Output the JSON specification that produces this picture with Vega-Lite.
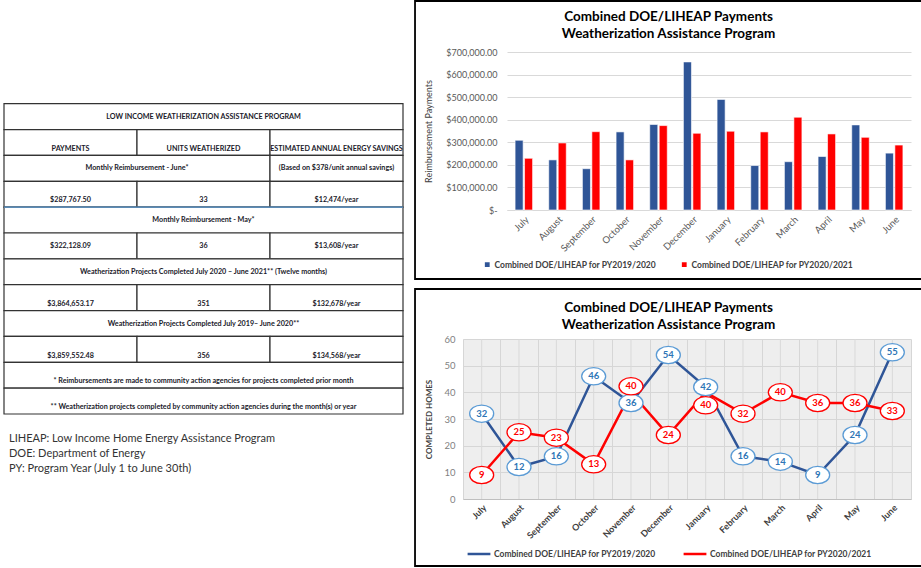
{
  "$schema": "https://vega.github.io/schema/vega-lite/v6.json",
  "padding": {"left": 3, "top": 0, "right": 0, "bottom": 0},
  "background": "white",
  "config": {
    "font": "Lato",
    "view": {"stroke": null},
    "axis": {"labelFont": "Lato", "titleFont": "Lato"},
    "legend": {"labelFont": "Lato"},
    "title": {"font": "Lato"}
  },
  "resolve": {"scale": {"color": "independent"}, "legend": {"color": "independent"}},
  "datasets": {
    "table": [
      {"row": 1, "c0": 0, "c1": 3, "cx": 1.5, "kind": "mid", "text": "LOW INCOME WEATHERIZATION ASSISTANCE PROGRAM"},
      {"row": 2, "c0": 0, "c1": 1, "cx": 0.5, "kind": "low", "text": "PAYMENTS"},
      {"row": 2, "c0": 1, "c1": 2, "cx": 1.5, "kind": "low", "text": "UNITS WEATHERIZED"},
      {"row": 2, "c0": 2, "c1": 3, "cx": 2.5, "kind": "low", "text": "ESTIMATED ANNUAL ENERGY SAVINGS"},
      {"row": 3, "c0": 0, "c1": 2, "cx": 1, "kind": "mid", "text": "Monthly Reimbursement - June*"},
      {"row": 3, "c0": 2, "c1": 3, "cx": 2.5, "kind": "mid", "text": "(Based on $378/unit  annual savings)"},
      {"row": 4, "c0": 0, "c1": 1, "cx": 0.5, "kind": "low", "text": "$287,767.50"},
      {"row": 4, "c0": 1, "c1": 2, "cx": 1.5, "kind": "low", "text": "33"},
      {"row": 4, "c0": 2, "c1": 3, "cx": 2.5, "kind": "low", "text": "$12,474/year"},
      {"row": 5, "c0": 0, "c1": 3, "cx": 1.5, "kind": "mid", "text": "Monthly Reimbursement - May*"},
      {"row": 6, "c0": 0, "c1": 1, "cx": 0.5, "kind": "mid", "text": "$322,128.09"},
      {"row": 6, "c0": 1, "c1": 2, "cx": 1.5, "kind": "mid", "text": "36"},
      {"row": 6, "c0": 2, "c1": 3, "cx": 2.5, "kind": "mid", "text": "$13,608/year"},
      {"row": 7, "c0": 0, "c1": 3, "cx": 1.5, "kind": "mid", "text": "Weatherization Projects Completed July 2020 – June 2021** (Twelve months)"},
      {"row": 8, "c0": 0, "c1": 1, "cx": 0.5, "kind": "low", "text": "$3,864,653.17"},
      {"row": 8, "c0": 1, "c1": 2, "cx": 1.5, "kind": "low", "text": "351"},
      {"row": 8, "c0": 2, "c1": 3, "cx": 2.5, "kind": "low", "text": "$132,678/year"},
      {"row": 9, "c0": 0, "c1": 3, "cx": 1.5, "kind": "mid", "text": "Weatherization Projects Completed July 2019– June 2020**"},
      {"row": 10, "c0": 0, "c1": 1, "cx": 0.5, "kind": "low", "text": "$3,859,552.48"},
      {"row": 10, "c0": 1, "c1": 2, "cx": 1.5, "kind": "low", "text": "356"},
      {"row": 10, "c0": 2, "c1": 3, "cx": 2.5, "kind": "low", "text": "$134,568/year"},
      {"row": 11, "c0": 0, "c1": 3, "cx": 1.5, "kind": "low", "text": "* Reimbursements are made to community action agencies for projects completed prior month"},
      {"row": 12, "c0": 0, "c1": 3, "cx": 1.5, "kind": "low", "text": "** Weatherization projects completed by community action agencies during the month(s) or year"}
    ],
    "notes": [
      {"line": 1, "text": "LIHEAP: Low Income Home Energy Assistance Program"},
      {"line": 2, "text": "DOE: Department of Energy"},
      {"line": 3, "text": "PY: Program Year (July 1 to June 30th)"}
    ],
    "payments": [
      {"month": "July", "series": "Combined DOE/LIHEAP for PY2019/2020", "value": 309000},
      {"month": "August", "series": "Combined DOE/LIHEAP for PY2019/2020", "value": 222000},
      {"month": "September", "series": "Combined DOE/LIHEAP for PY2019/2020", "value": 183000},
      {"month": "October", "series": "Combined DOE/LIHEAP for PY2019/2020", "value": 346000},
      {"month": "November", "series": "Combined DOE/LIHEAP for PY2019/2020", "value": 379000},
      {"month": "December", "series": "Combined DOE/LIHEAP for PY2019/2020", "value": 656000},
      {"month": "January", "series": "Combined DOE/LIHEAP for PY2019/2020", "value": 490000},
      {"month": "February", "series": "Combined DOE/LIHEAP for PY2019/2020", "value": 197000},
      {"month": "March", "series": "Combined DOE/LIHEAP for PY2019/2020", "value": 214000},
      {"month": "April", "series": "Combined DOE/LIHEAP for PY2019/2020", "value": 237000},
      {"month": "May", "series": "Combined DOE/LIHEAP for PY2019/2020", "value": 377000},
      {"month": "June", "series": "Combined DOE/LIHEAP for PY2019/2020", "value": 252000},
      {"month": "July", "series": "Combined DOE/LIHEAP for PY2020/2021", "value": 229000},
      {"month": "August", "series": "Combined DOE/LIHEAP for PY2020/2021", "value": 297000},
      {"month": "September", "series": "Combined DOE/LIHEAP for PY2020/2021", "value": 347000},
      {"month": "October", "series": "Combined DOE/LIHEAP for PY2020/2021", "value": 222000},
      {"month": "November", "series": "Combined DOE/LIHEAP for PY2020/2021", "value": 374000},
      {"month": "December", "series": "Combined DOE/LIHEAP for PY2020/2021", "value": 340000},
      {"month": "January", "series": "Combined DOE/LIHEAP for PY2020/2021", "value": 349000},
      {"month": "February", "series": "Combined DOE/LIHEAP for PY2020/2021", "value": 346000},
      {"month": "March", "series": "Combined DOE/LIHEAP for PY2020/2021", "value": 411000},
      {"month": "April", "series": "Combined DOE/LIHEAP for PY2020/2021", "value": 337000},
      {"month": "May", "series": "Combined DOE/LIHEAP for PY2020/2021", "value": 322128.09},
      {"month": "June", "series": "Combined DOE/LIHEAP for PY2020/2021", "value": 287767.5}
    ],
    "homes": [
      {"month": "July", "series": "Combined DOE/LIHEAP for PY2019/2020", "value": 32},
      {"month": "August", "series": "Combined DOE/LIHEAP for PY2019/2020", "value": 12},
      {"month": "September", "series": "Combined DOE/LIHEAP for PY2019/2020", "value": 16},
      {"month": "October", "series": "Combined DOE/LIHEAP for PY2019/2020", "value": 46},
      {"month": "November", "series": "Combined DOE/LIHEAP for PY2019/2020", "value": 36},
      {"month": "December", "series": "Combined DOE/LIHEAP for PY2019/2020", "value": 54},
      {"month": "January", "series": "Combined DOE/LIHEAP for PY2019/2020", "value": 42},
      {"month": "February", "series": "Combined DOE/LIHEAP for PY2019/2020", "value": 16},
      {"month": "March", "series": "Combined DOE/LIHEAP for PY2019/2020", "value": 14},
      {"month": "April", "series": "Combined DOE/LIHEAP for PY2019/2020", "value": 9},
      {"month": "May", "series": "Combined DOE/LIHEAP for PY2019/2020", "value": 24},
      {"month": "June", "series": "Combined DOE/LIHEAP for PY2019/2020", "value": 55},
      {"month": "July", "series": "Combined DOE/LIHEAP for PY2020/2021", "value": 9},
      {"month": "August", "series": "Combined DOE/LIHEAP for PY2020/2021", "value": 25},
      {"month": "September", "series": "Combined DOE/LIHEAP for PY2020/2021", "value": 23},
      {"month": "October", "series": "Combined DOE/LIHEAP for PY2020/2021", "value": 13},
      {"month": "November", "series": "Combined DOE/LIHEAP for PY2020/2021", "value": 40},
      {"month": "December", "series": "Combined DOE/LIHEAP for PY2020/2021", "value": 24},
      {"month": "January", "series": "Combined DOE/LIHEAP for PY2020/2021", "value": 40},
      {"month": "February", "series": "Combined DOE/LIHEAP for PY2020/2021", "value": 32},
      {"month": "March", "series": "Combined DOE/LIHEAP for PY2020/2021", "value": 40},
      {"month": "April", "series": "Combined DOE/LIHEAP for PY2020/2021", "value": 36},
      {"month": "May", "series": "Combined DOE/LIHEAP for PY2020/2021", "value": 36},
      {"month": "June", "series": "Combined DOE/LIHEAP for PY2020/2021", "value": 33}
    ]
  },
  "spacing": 10,
  "hconcat": [
    {
      "spacing": 17,
      "vconcat": [
        {
          "width": 399,
          "height": 362,
          "data": {"name": "table"},
          "encoding": {
            "y": {"field": "row", "type": "ordinal", "axis": null, "scale": {"paddingInner": 0, "paddingOuter": 1, "align": 1}}
          },
          "layer": [
            {
              "mark": {"type": "rect", "fill": "white", "stroke": "#333333", "strokeWidth": 1.2},
              "encoding": {
                "x": {"field": "c0", "type": "quantitative", "axis": null, "scale": {"domain": [0, 3], "nice": false}},
                "x2": {"field": "c1"}
              }
            },
            {
              "data": {"values": [{"row": 5}]},
              "mark": {"type": "rule", "stroke": "#5B9BD5", "strokeWidth": 1.2},
              "encoding": {
                "y": {"field": "row", "type": "ordinal", "bandPosition": 0},
                "x": {"datum": 0},
                "x2": {"datum": 3}
              }
            },
            {
              "transform": [{"filter": "datum.kind == 'mid'"}],
              "mark": {"type": "text", "fontSize": 7.2, "fontWeight": "bold", "color": "#1a1a2a"},
              "encoding": {
                "x": {"field": "cx", "type": "quantitative"},
                "text": {"field": "text"}
              }
            },
            {
              "transform": [{"filter": "datum.kind == 'low'"}],
              "mark": {"type": "text", "fontSize": 7.2, "fontWeight": "bold", "color": "#1a1a2a"},
              "encoding": {
                "x": {"field": "cx", "type": "quantitative"},
                "y": {"field": "row", "type": "ordinal", "bandPosition": 0.74},
                "text": {"field": "text"}
              }
            }
          ]
        },
        {
          "width": 399,
          "height": 44,
          "data": {"name": "notes"},
          "mark": {"type": "text", "align": "left", "fontSize": 11, "color": "#333333", "dx": 5},
          "encoding": {
            "y": {"field": "line", "type": "ordinal", "axis": null, "scale": {"paddingInner": 0, "paddingOuter": 0}},
            "x": {"datum": 0, "type": "quantitative", "scale": {"domain": [0, 1]}, "axis": null},
            "text": {"field": "text"}
          }
        }
      ]
    },
    {
      "spacing": 8,
      "resolve": {"scale": {"color": "independent"}, "legend": {"color": "independent"}},
      "vconcat": [
        {
          "width": 448,
          "height": 158,
          "title": {"text": ["Combined DOE/LIHEAP Payments", "Weatherization Assistance Program"], "fontSize": 13.5, "fontWeight": "bold", "color": "#000000", "anchor": "middle", "frame": "bounds", "lineHeight": 16.5, "offset": -40},
          "data": {"name": "payments"},
          "resolve": {"scale": {"x": "independent", "y": "independent"}},
          "layer": [
            {
              "mark": {"type": "bar", "stroke": "white", "strokeWidth": 0.6},
              "encoding": {
                "x": {
                  "field": "month", "type": "nominal",
                  "sort": ["July", "August", "September", "October", "November", "December", "January", "February", "March", "April", "May", "June"],
                  "scale": {"range": [44, 448], "paddingInner": 0.48, "paddingOuter": 0.24},
                  "axis": {"title": null, "labelAngle": -45, "labelColor": "#595959", "labelFontSize": 9.5, "ticks": false, "domainColor": "#d9d9d9", "labelPadding": 4}
                },
                "xOffset": {"field": "series", "scale": {"paddingInner": 0.15}},
                "y": {
                  "field": "value", "type": "quantitative",
                  "scale": {"domain": [0, 700000], "nice": false},
                  "axis": {"offset": -44, "title": "Reimbursement Payments", "titleFontSize": 9, "titleFontWeight": "normal", "titleColor": "#404040", "titlePadding": 12, "labelColor": "#595959", "labelFontSize": 9, "labelPadding": 10, "values": [0, 100000, 200000, 300000, 400000, 500000, 600000, 700000], "labelExpr": "datum.value == 0 ? '$-' : '$' + format(datum.value, ',.2f')", "domain": false, "ticks": false, "gridColor": "#d9d9d9"}
                },
                "color": {
                  "field": "series", "type": "nominal",
                  "scale": {"range": ["#2F5597", "#FF0000"]},
                  "legend": {"orient": "none", "legendX": 20, "legendY": 208, "direction": "horizontal", "title": null, "symbolType": "square", "symbolSize": 40, "labelFontSize": 8.5, "labelFontWeight": "bold", "labelColor": "#404040", "columnPadding": 21, "labelOffset": 3, "labelLimit": 300}
                }
              }
            },
            {
              "data": {"values": [{"panel": "payments"}]},
              "mark": {"type": "rect", "fill": "transparent", "stroke": "#000000", "strokeWidth": 1.8},
              "encoding": {
                "x": {"datum": -0.1071, "type": "quantitative", "scale": {"domain": [0, 1], "nice": false}, "axis": null},
                "x2": {"datum": 1.0246},
                "y": {"datum": 1.3228, "type": "quantitative", "scale": {"domain": [0, 1], "nice": false}, "axis": null},
                "y2": {"datum": -0.4367}
              }
            }
          ]
        },
        {
          "width": 448,
          "height": 160,
          "view": {"fill": "#eeeeee", "stroke": null},
          "title": {"text": ["Combined DOE/LIHEAP Payments", "Weatherization Assistance Program"], "fontSize": 13.5, "fontWeight": "bold", "color": "#000000", "anchor": "middle", "frame": "bounds", "lineHeight": 16.5, "offset": -43},
          "data": {"name": "homes"},
          "resolve": {"scale": {"x": "independent", "y": "independent"}},
          "layer": [
            {
              "encoding": {
                "x": {
                  "field": "month", "type": "nominal",
                  "sort": ["July", "August", "September", "October", "November", "December", "January", "February", "March", "April", "May", "June"],
                  "axis": {"title": null, "labelAngle": -45, "labelColor": "#404040", "labelFontWeight": "bold", "labelFontSize": 9, "ticks": false, "tickBand": "extent", "grid": true, "gridColor": "#d6d6d6", "domainColor": "#bfbfbf", "labelPadding": 4}
                },
                "y": {
                  "field": "value", "type": "quantitative",
                  "scale": {"domain": [0, 60], "nice": false},
                  "axis": {"title": "COMPLETED HOMES", "titleFontSize": 8, "titleFontWeight": "bold", "titleColor": "#404040", "titlePadding": 10, "labelColor": "#7f7f7f", "labelFontSize": 9.5, "labelPadding": 8, "values": [0, 10, 20, 30, 40, 50, 60], "domain": false, "ticks": false, "gridColor": "#d6d6d6"}
                }
              },
              "layer": [
                {
                  "transform": [{"filter": "datum.series == 'Combined DOE/LIHEAP for PY2019/2020'"}],
                  "mark": {"type": "rule", "color": "#d9d9d9", "strokeWidth": 1},
                  "encoding": {"y": null}
                },
                {
                  "mark": {"type": "line", "strokeWidth": 2.5},
                  "encoding": {
                    "color": {
                      "field": "series", "type": "nominal",
                      "scale": {"range": ["#2F5597", "#FF0000"]},
                      "legend": {"orient": "none", "legendX": 3, "legendY": 202, "direction": "horizontal", "title": null, "symbolType": "stroke", "symbolStrokeWidth": 2.5, "symbolSize": 520, "labelFontSize": 8.5, "labelFontWeight": "bold", "labelColor": "#404040", "columnPadding": 22, "labelOffset": 2, "labelLimit": 300}
                    }
                  }
                },
                {
                  "mark": {"type": "point", "shape": "M -1 0 A 1 0.72 0 1 0 1 0 A 1 0.72 0 1 0 -1 0 Z", "filled": true, "fill": "white", "strokeWidth": 1.3, "size": 576, "opacity": 1,
                    "yOffset": {"expr": "datum.series == 'Combined DOE/LIHEAP for PY2020/2021' ? (datum.month == 'January' ? 13 : (datum.month == 'November' ? -6 : 0)) : 0"}},
                  "encoding": {
                    "stroke": {"field": "series", "type": "nominal", "scale": {"range": ["#5B9BD5", "#FF0000"]}, "legend": null}
                  }
                },
                {
                  "mark": {"type": "text", "fontSize": 9.5, "fontWeight": "bold",
                    "yOffset": {"expr": "datum.series == 'Combined DOE/LIHEAP for PY2020/2021' ? (datum.month == 'January' ? 13 : (datum.month == 'November' ? -6 : 0)) : 0"}},
                  "encoding": {
                    "text": {"field": "value", "type": "quantitative"},
                    "fill": {"field": "series", "type": "nominal", "scale": {"range": ["#2E75B6", "#FF0000"]}, "legend": null}
                  }
                }
              ]
            },
            {
              "data": {"values": [{"panel": "homes"}]},
              "mark": {"type": "rect", "fill": "transparent", "stroke": "#000000", "strokeWidth": 1.8},
              "encoding": {
                "x": {"datum": -0.1071, "type": "quantitative", "scale": {"domain": [0, 1], "nice": false}, "axis": null},
                "x2": {"datum": 1.0246},
                "y": {"datum": 1.3125, "type": "quantitative", "scale": {"domain": [0, 1], "nice": false}, "axis": null},
                "y2": {"datum": -0.41875}
              }
            }
          ]
        }
      ]
    }
  ]
}
